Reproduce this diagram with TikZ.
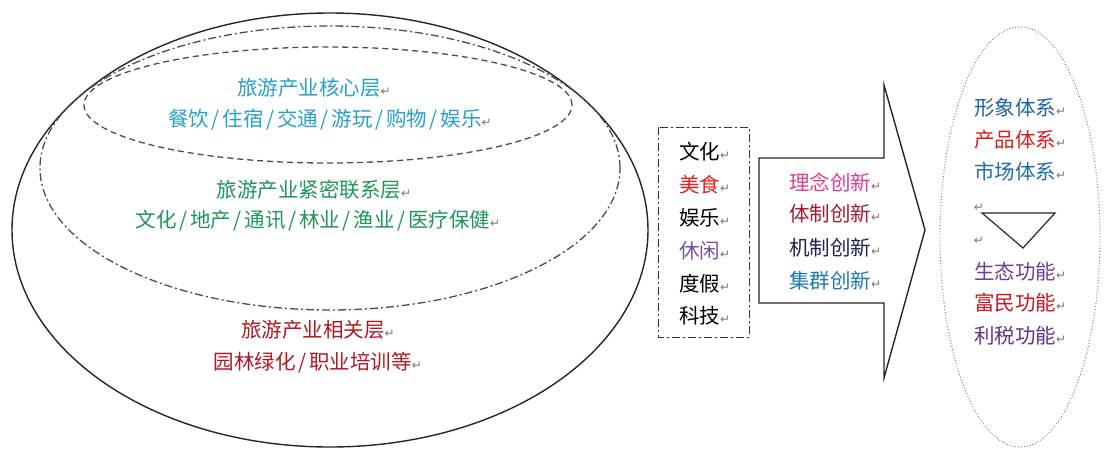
\documentclass[tikz,border=0pt]{standalone}
\usepackage{fontspec}
\newfontfamily\cjk{Noto Sans CJK SC}
\newfontfamily\dejavu{DejaVu Sans}
\newcommand{\retmark}{{\dejavu\fontsize{12}{12}\selectfont\color{retgray}↵}}
\newcommand{\slmark}{\makebox[13.5pt]{/}}
\definecolor{retgray}{RGB}{120,120,120}
\definecolor{corec}{RGB}{38,160,205}
\definecolor{closec}{RGB}{30,150,90}
\definecolor{relc}{RGB}{175,25,35}
\definecolor{foodc}{RGB}{230,30,30}
\definecolor{leisc}{RGB}{120,80,160}
\definecolor{ideac}{RGB}{225,60,140}
\definecolor{instc}{RGB}{170,25,40}
\definecolor{mechc}{RGB}{30,35,80}
\definecolor{clusc}{RGB}{30,120,180}
\definecolor{imgc}{RGB}{30,100,165}
\definecolor{prodc}{RGB}{220,30,30}
\definecolor{mktc}{RGB}{30,110,170}
\definecolor{ecoc}{RGB}{110,60,150}
\definecolor{richc}{RGB}{205,20,35}
\definecolor{taxc}{RGB}{100,50,140}
\begin{document}
\begin{tikzpicture}[x=1pt,y=-1pt,
  txt/.style={inner sep=0pt,font=\cjk\fontsize{20.5}{24}\selectfont},
  ltxt/.style={txt,anchor=west},
  dashdotline/.style={dash pattern=on 8pt off 3pt on 2pt off 3pt},
  dashline/.style={dash pattern=on 6pt off 4pt}]
\useasboundingbox (0,0) rectangle (1106,448);
% left nested ellipses
\draw[line width=1.4pt,black!85] (330,230) ellipse [x radius=318pt,y radius=217pt];
\draw[line width=1.3pt,black!70,dashdotline] (330,168) ellipse [x radius=290pt,y radius=142pt];
\draw[line width=1.3pt,black!70,dashline] (328,105) ellipse [x radius=244pt,y radius=58pt];
% left texts
\node[txt,text=corec] (core1) at (314,88) {旅游产业核心层\retmark};
\node[txt,text=corec] (core2) at (330,120) {餐饮\slmark 住宿\slmark 交通\slmark 游玩\slmark 购物\slmark 娱乐\retmark};
\node[txt,text=closec] (close1) at (314,190) {旅游产业紧密联系层\retmark};
\node[txt,text=closec] (close2) at (318,221) {文化\slmark 地产\slmark 通讯\slmark 林业\slmark 渔业\slmark 医疗保健\retmark};
\node[txt,text=relc] (rel1) at (318,330) {旅游产业相关层\retmark};
\node[txt,text=relc] (rel2) at (318,363) {园林绿化\slmark 职业培训等\retmark};
% dash-dot box
\draw[line width=1pt,black!80,dashdotline] (658,127) rectangle (749,337);
\node[ltxt] (w1) at (679,152) {文化\retmark};
\node[ltxt,text=foodc] (w2) at (679,185) {美食\retmark};
\node[ltxt] (w3) at (679,218) {娱乐\retmark};
\node[ltxt,text=leisc] (w4) at (679,251) {休闲\retmark};
\node[ltxt] (w5) at (679,284) {度假\retmark};
\node[ltxt] (w6) at (679,316) {科技\retmark};
% big arrow
\draw[line width=1.4pt,black!85,line join=miter] (759,158) -- (884,158) -- (884,85) -- (925,230) -- (884,378) -- (884,303) -- (759,303) -- cycle;
\node[ltxt,text=ideac] (a1) at (789,182) {理念创新\retmark};
\node[ltxt,text=instc] (a2) at (789,214) {体制创新\retmark};
\node[ltxt,text=mechc] (a3) at (789,248) {机制创新\retmark};
\node[ltxt,text=clusc] (a4) at (789,281) {集群创新\retmark};
% right ellipse
\draw[line width=0.9pt,black!55,dotted] (1020,237) ellipse [x radius=80pt,y radius=210pt];
\node[ltxt,text=imgc] (r1) at (974,108) {形象体系\retmark};
\node[ltxt,text=prodc] (r2) at (974,140) {产品体系\retmark};
\node[ltxt,text=mktc] (r3) at (974,172) {市场体系\retmark};
\node[inner sep=0pt] (m1) at (979,208) {\retmark};
\node[inner sep=0pt] (m2) at (979,241) {\retmark};
\draw[line width=1.2pt,black!85,line join=miter] (982,213) -- (1055,213) -- (1023,248) -- cycle;
\node[ltxt,text=ecoc] (r4) at (974,272) {生态功能\retmark};
\node[ltxt,text=richc] (r5) at (974,303) {富民功能\retmark};
\node[ltxt,text=taxc] (r6) at (974,336) {利税功能\retmark};
\end{tikzpicture}
\end{document}
